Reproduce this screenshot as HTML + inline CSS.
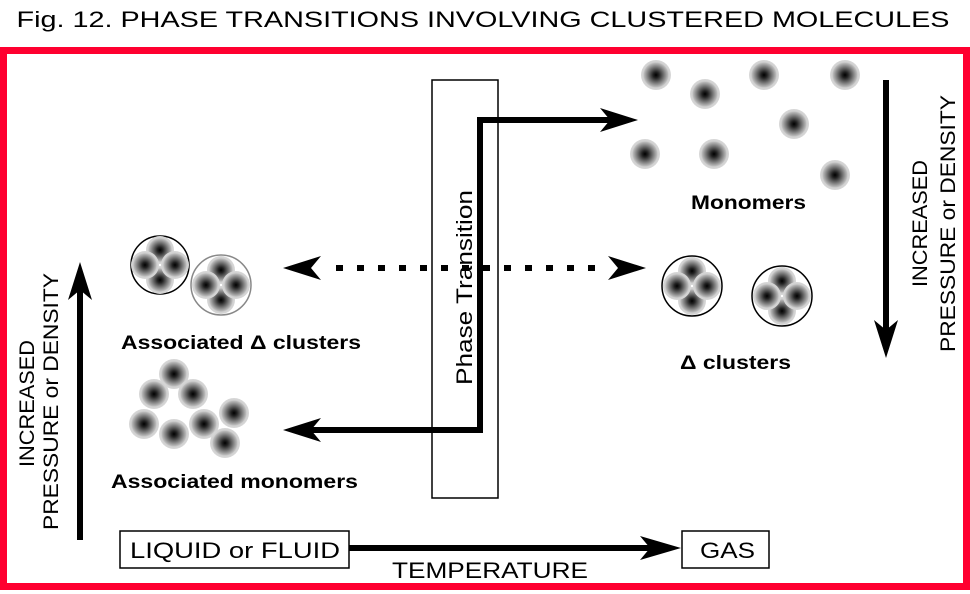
<!DOCTYPE html>
<html><head><meta charset="utf-8"><style>
html,body{margin:0;padding:0;background:#fff}
svg{display:block}
text{font-family:"Liberation Sans",Arial,sans-serif}
</style></head><body>
<svg width="970" height="594" viewBox="0 0 970 594" xmlns="http://www.w3.org/2000/svg">
<defs>
<radialGradient id="g" cx="50%" cy="50%" r="50%">
<stop offset="0" stop-color="#000"/>
<stop offset="0.2" stop-color="#222"/>
<stop offset="0.6" stop-color="#888"/>
<stop offset="0.8" stop-color="#bbb"/>
<stop offset="0.85" stop-color="#d0d0d0"/>
<stop offset="1" stop-color="#d8d8d8"/>
</radialGradient>
</defs>
<rect width="970" height="594" fill="#fff"/>
<text x="483" y="27" font-size="22" text-anchor="middle" textLength="933" lengthAdjust="spacingAndGlyphs">Fig. 12.  PHASE TRANSITIONS INVOLVING CLUSTERED MOLECULES</text>
<rect x="3.5" y="50.5" width="963" height="536" fill="none" stroke="#ff0030" stroke-width="7"/>

<g>
<circle cx="656" cy="75" r="15" fill="url(#g)"/>
<circle cx="705" cy="94" r="15" fill="url(#g)"/>
<circle cx="764" cy="75" r="15" fill="url(#g)"/>
<circle cx="845" cy="75" r="15" fill="url(#g)"/>
<circle cx="794" cy="124" r="15" fill="url(#g)"/>
<circle cx="645" cy="154" r="15" fill="url(#g)"/>
<circle cx="714" cy="154" r="15" fill="url(#g)"/>
<circle cx="835" cy="175" r="15" fill="url(#g)"/>
</g>
<text x="691" y="209" font-size="19" font-weight="bold" textLength="115" lengthAdjust="spacingAndGlyphs">Monomers</text>

<g>
<circle cx="692" cy="286" r="30" fill="#fff" stroke="#000" stroke-width="1.5"/>
<circle cx="692" cy="271" r="14" fill="url(#g)"/>
<circle cx="692" cy="301" r="14" fill="url(#g)"/>
<circle cx="677" cy="286" r="14" fill="url(#g)"/>
<circle cx="707" cy="286" r="14" fill="url(#g)"/>
<circle cx="782" cy="296" r="30" fill="#fff" stroke="#000" stroke-width="1.5"/>
<circle cx="782" cy="281" r="14" fill="url(#g)"/>
<circle cx="782" cy="311" r="14" fill="url(#g)"/>
<circle cx="767" cy="296" r="14" fill="url(#g)"/>
<circle cx="797" cy="296" r="14" fill="url(#g)"/>
</g>
<text x="680" y="369" font-size="19" font-weight="bold" textLength="111" lengthAdjust="spacingAndGlyphs">Δ clusters</text>

<g>
<circle cx="160" cy="265" r="29" fill="#fff" stroke="#000" stroke-width="1.5"/>
<circle cx="160" cy="250" r="14" fill="url(#g)"/>
<circle cx="160" cy="280" r="14" fill="url(#g)"/>
<circle cx="145" cy="265" r="14" fill="url(#g)"/>
<circle cx="175" cy="265" r="14" fill="url(#g)"/>
<circle cx="221" cy="285" r="30" fill="#fff" stroke="#888" stroke-width="1.5"/>
<circle cx="221" cy="270" r="14" fill="url(#g)"/>
<circle cx="221" cy="300" r="14" fill="url(#g)"/>
<circle cx="206" cy="285" r="14" fill="url(#g)"/>
<circle cx="236" cy="285" r="14" fill="url(#g)"/>
</g>
<text x="121" y="349" font-size="19" font-weight="bold" textLength="240" lengthAdjust="spacingAndGlyphs">Associated Δ clusters</text>

<g>
<circle cx="174" cy="374" r="15" fill="url(#g)"/>
<circle cx="154" cy="394" r="15" fill="url(#g)"/>
<circle cx="193" cy="394" r="15" fill="url(#g)"/>
<circle cx="144" cy="424" r="15" fill="url(#g)"/>
<circle cx="174" cy="434" r="15" fill="url(#g)"/>
<circle cx="204" cy="424" r="15" fill="url(#g)"/>
<circle cx="234" cy="413" r="15" fill="url(#g)"/>
<circle cx="225" cy="443" r="15" fill="url(#g)"/>
</g>
<text x="111" y="488" font-size="19" font-weight="bold" textLength="247" lengthAdjust="spacingAndGlyphs">Associated monomers</text>

<rect x="432" y="80" width="66" height="418" fill="none" stroke="#000" stroke-width="1.5"/>
<text transform="translate(472,385) rotate(-90)" font-size="22" textLength="195" lengthAdjust="spacingAndGlyphs">Phase Transition</text>

<polyline points="310,430 480,430 480,120 610,120" fill="none" stroke="#000" stroke-width="6"/>
<polygon points="638,120 600,108 610,120 600,132" fill="#000"/>
<polygon points="283,430 321,418 311,430 321,442" fill="#000"/>

<line x1="336" y1="268" x2="604" y2="268" stroke="#000" stroke-width="6" stroke-dasharray="7,14"/>
<polygon points="283,268 321,256 311,268 321,280" fill="#000"/>
<polygon points="646,268 608,256 618,268 608,280" fill="#000"/>

<line x1="80" y1="540" x2="80" y2="290" stroke="#000" stroke-width="6"/>
<polygon points="80,262 68,300 80,290 92,300" fill="#000"/>
<line x1="886" y1="80" x2="886" y2="330" stroke="#000" stroke-width="6"/>
<polygon points="886,358 874,320 886,330 898,320" fill="#000"/>

<text transform="translate(34,467) rotate(-90)" font-size="21" textLength="127" lengthAdjust="spacingAndGlyphs">INCREASED</text>
<text transform="translate(58,530) rotate(-90)" font-size="21" textLength="257" lengthAdjust="spacingAndGlyphs">PRESSURE or DENSITY</text>
<text transform="translate(927,287) rotate(-90)" font-size="21" textLength="127" lengthAdjust="spacingAndGlyphs">INCREASED</text>
<text transform="translate(955,352) rotate(-90)" font-size="21" textLength="257" lengthAdjust="spacingAndGlyphs">PRESSURE or DENSITY</text>

<rect x="120" y="531" width="229" height="37" fill="#fff" stroke="#000" stroke-width="1.5"/>
<text x="130" y="558" font-size="22" textLength="210" lengthAdjust="spacingAndGlyphs">LIQUID or FLUID</text>
<rect x="682" y="531" width="87" height="37" fill="#fff" stroke="#000" stroke-width="1.5"/>
<text x="700" y="558" font-size="22" textLength="55" lengthAdjust="spacingAndGlyphs">GAS</text>
<line x1="349" y1="548" x2="655" y2="548" stroke="#000" stroke-width="6"/>
<polygon points="681,548 640,536 650,548 640,560" fill="#000"/>
<text x="392" y="578" font-size="22" textLength="196" lengthAdjust="spacingAndGlyphs">TEMPERATURE</text>
</svg>
</body></html>
